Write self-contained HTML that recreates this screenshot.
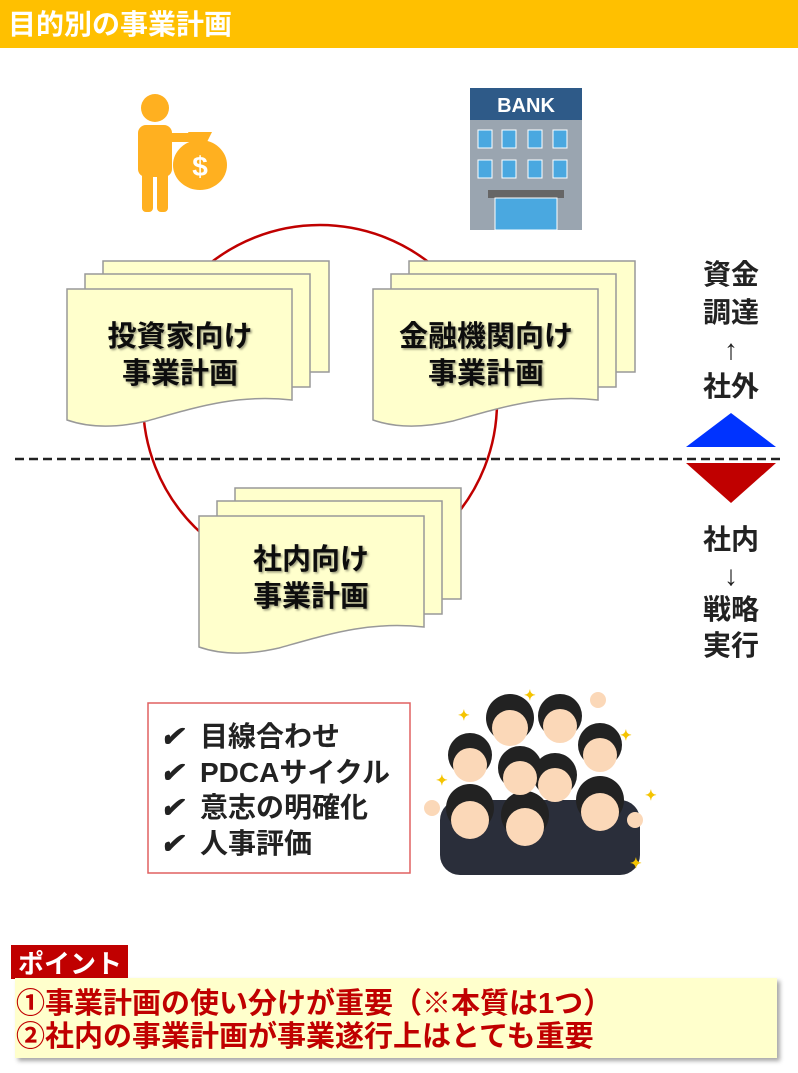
<!DOCTYPE html>
<html><head><meta charset="utf-8"><style>
body{margin:0;background:#fff;}
svg text{font-family:"Liberation Sans","Noto Sans CJK JP",sans-serif;font-weight:bold;}
</style></head><body>
<svg width="798" height="1068" viewBox="0 0 798 1068" xmlns="http://www.w3.org/2000/svg">
<defs>
<filter id="sh" x="-10%" y="-10%" width="130%" height="130%"><feDropShadow dx="3" dy="3" stdDeviation="2" flood-color="#000" flood-opacity="0.35"/></filter>
<filter id="ts"><feDropShadow dx="1.5" dy="1.5" stdDeviation="1" flood-color="#000" flood-opacity="0.4"/></filter>
<g id="doc">
<path d="M36,-28 H262 V83 H36 Z" fill="#FFFFCC" stroke="#999" stroke-width="1.5"/>
<path d="M18,-15 H243 V98 H18 Z" fill="#FFFFCC" stroke="#999" stroke-width="1.5"/>
<path d="M0,0 H225 V111 C170,105 130,118 80,132 C45,140 20,138 0,131 Z" fill="#FFFFCC" stroke="#999" stroke-width="1.5"/>
</g>
</defs>
<rect x="0" y="0" width="798" height="48" fill="#FFC000"/>
<text x="8" y="34" font-size="28" fill="#fff">目的別の事業計画</text>

<circle cx="320" cy="402" r="177" fill="none" stroke="#C00000" stroke-width="2.5"/>

<g fill="#FFB020">
<circle cx="155" cy="108" r="14"/>
<rect x="138" y="125" width="34" height="52" rx="8"/>
<rect x="142" y="170" width="11" height="42" rx="4"/>
<rect x="157" y="170" width="11" height="42" rx="4"/>
<rect x="165" y="133" width="30" height="9" rx="4"/>
<ellipse cx="200" cy="165" rx="27" ry="25"/>
<path d="M188,132 h24 l-6,12 h-12z"/>
</g>
<text x="200" y="176" font-size="28" fill="#fff" text-anchor="middle">$</text>

<rect x="470" y="88" width="112" height="142" fill="#9AA5B0"/>
<rect x="470" y="88" width="112" height="32" fill="#2E5A88"/>
<text x="526" y="112" font-size="20" fill="#fff" text-anchor="middle">BANK</text>
<g fill="#4AA8E0" stroke="#fff" stroke-width="1">
<rect x="478" y="130" width="14" height="18"/><rect x="502" y="130" width="14" height="18"/><rect x="528" y="130" width="14" height="18"/><rect x="553" y="130" width="14" height="18"/>
<rect x="478" y="160" width="14" height="18"/><rect x="502" y="160" width="14" height="18"/><rect x="528" y="160" width="14" height="18"/><rect x="553" y="160" width="14" height="18"/>
</g>
<rect x="488" y="190" width="76" height="8" fill="#666"/>
<rect x="495" y="198" width="62" height="32" fill="#4AA8E0" stroke="#fff"/>

<use href="#doc" x="67" y="289"/>
<use href="#doc" x="373" y="289"/>
<use href="#doc" x="199" y="516"/>
<g font-size="29" fill="#111" text-anchor="middle" filter="url(#ts)">
<text x="180" y="346">投資家向け</text><text x="180" y="383">事業計画</text>
<text x="486" y="346">金融機関向け</text><text x="486" y="383">事業計画</text>
<text x="311" y="569">社内向け</text><text x="311" y="606">事業計画</text>
</g>

<line x1="15" y1="459" x2="785" y2="459" stroke="#222" stroke-width="2.5" stroke-dasharray="9,5"/>
<polygon points="731,413 776,447 686,447" fill="#0033FF"/>
<polygon points="686,463 776,463 731,503" fill="#C00000"/>
<g font-size="28" fill="#222" text-anchor="middle">
<text x="731" y="284">資金</text><text x="731" y="322">調達</text><text x="731" y="359">↑</text><text x="731" y="396">社外</text>
<text x="731" y="549">社内</text><text x="731" y="585">↓</text><text x="731" y="619">戦略</text><text x="731" y="655">実行</text>
</g>

<rect x="148" y="703" width="262" height="170" fill="#fff" stroke="#E06060" stroke-width="1.5"/>
<g font-size="28" fill="#222">
<text x="160" y="746" font-style="italic">✔</text><text x="200" y="746">目線合わせ</text>
<text x="160" y="782" font-style="italic">✔</text><text x="200" y="782">PDCAサイクル</text>
<text x="160" y="817" font-style="italic">✔</text><text x="200" y="817">意志の明確化</text>
<text x="160" y="853" font-style="italic">✔</text><text x="200" y="853">人事評価</text>
</g>

<g>
<rect x="440" y="800" width="200" height="75" rx="20" fill="#2A2E3A"/>
<g fill="#222">
<circle cx="510" cy="718" r="24"/><circle cx="560" cy="716" r="22"/><circle cx="600" cy="745" r="22"/>
<circle cx="470" cy="755" r="22"/><circle cx="520" cy="768" r="22"/><circle cx="555" cy="775" r="22"/>
<circle cx="470" cy="808" r="24"/><circle cx="525" cy="815" r="24"/><circle cx="600" cy="800" r="24"/>
</g>
<g fill="#FBD8B8">
<circle cx="510" cy="728" r="18"/><circle cx="560" cy="726" r="17"/><circle cx="600" cy="755" r="17"/>
<circle cx="470" cy="765" r="17"/><circle cx="520" cy="778" r="17"/><circle cx="555" cy="785" r="17"/>
<circle cx="470" cy="820" r="19"/><circle cx="525" cy="827" r="19"/><circle cx="600" cy="812" r="19"/>
<circle cx="432" cy="808" r="8"/><circle cx="598" cy="700" r="8"/><circle cx="635" cy="820" r="8"/>
</g>
<g fill="#F5C400" font-size="14"><text x="458" y="720">✦</text><text x="524" y="700">✦</text><text x="620" y="740">✦</text><text x="436" y="785">✦</text><text x="630" y="868">✦</text><text x="645" y="800">✦</text></g>
</g>

<rect x="11" y="945" width="117" height="34" fill="#C00000"/>
<text x="18" y="973" font-size="26" fill="#fff">ポイント</text>
<rect x="15" y="978" width="762" height="80" fill="#FFFFCC" filter="url(#sh)"/>
<g font-size="29" fill="#C00000">
<text x="16" y="1013">①事業計画の使い分けが重要（※本質は1つ）</text>
<text x="16" y="1046">②社内の事業計画が事業遂行上はとても重要</text>
</g>
</svg>
</body></html>
